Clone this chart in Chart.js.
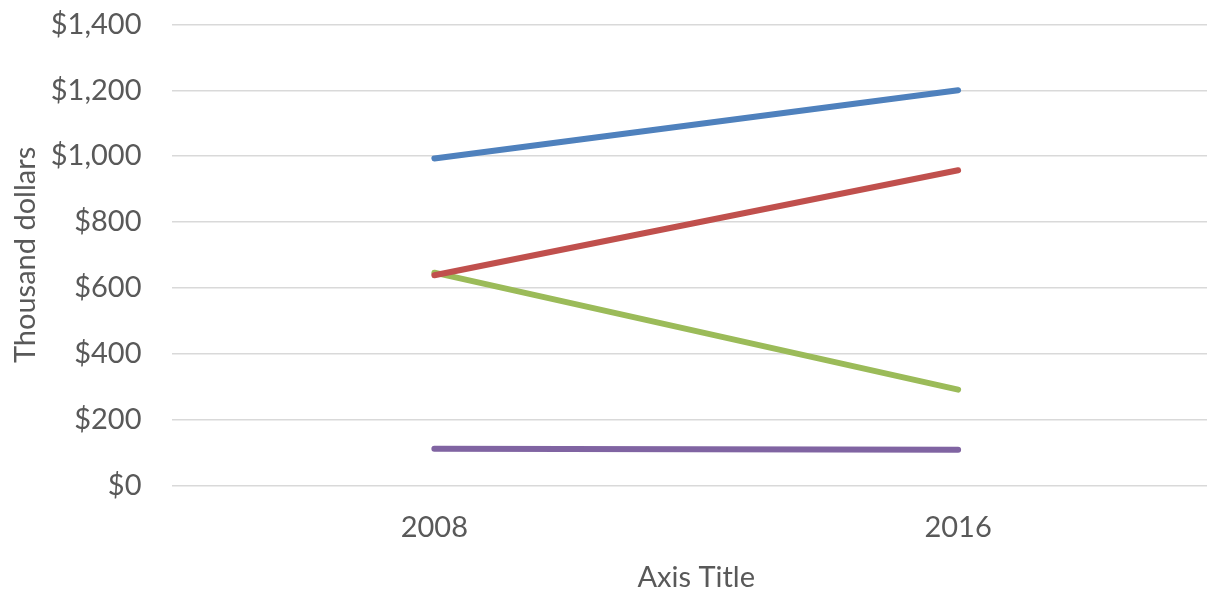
<!DOCTYPE html>
<html>
<head>
<meta charset="utf-8">
<script src="https://cdn.jsdelivr.net/npm/chart.js@4"></script>
<style>
    html, body { margin: 0; padding: 0; background: #fff; overflow: hidden; }
    #wrap { width: 1222px; height: 591px; }
</style>
</head>
<body>
<div id="wrap"><canvas id="chart"></canvas></div>
<script>
// Values
const years = ['2008', '2016'];
const blueValues = [993, 1200];
const redValues = [638, 957];
const greenValues = [646, 291];
const purpleValues = [111, 108];
const yTickValues = [0, 200, 400, 600, 800, 1000, 1200, 1400];

document.addEventListener('DOMContentLoaded', function() {
    const ctx = document.getElementById('chart').getContext('2d');
    const textColor = '#595959';
    const font = { family: 'Lato', size: 29 };

    function series(values, color) {
        return {
            data: values,
            borderColor: color,
            backgroundColor: color,
            borderWidth: 6,
            borderCapStyle: 'round',
            pointRadius: 0,
            tension: 0
        };
    }

    new Chart(ctx, {
        type: 'line',
        data: {
            labels: years,
            datasets: [
                series(blueValues, '#4f81bd'),
                series(redValues, '#c0504d'),
                series(greenValues, '#9bbb59'),
                series(purpleValues, '#8064a2')
            ]
        },
        options: {
            responsive: true,
            maintainAspectRatio: false,
            animation: false,
            layout: { padding: { left: 8, top: 0, right: 2, bottom: 0 } },
            plugins: {
                legend: { display: false },
                tooltip: { enabled: false }
            },
            scales: {
                x: {
                    offset: true,
                    grid: { display: false, drawTicks: false },
                    border: { display: false },
                    ticks: { color: textColor, font: font, padding: 25 },
                    title: {
                        display: true,
                        text: 'Axis Title',
                        color: textColor,
                        font: font,
                        padding: { top: -10, bottom: -4 }
                    }
                },
                y: {
                    min: 0,
                    max: 1400,
                    afterBuildTicks: axis => {
                        axis.ticks = yTickValues.map(v => ({ value: v }));
                    },
                    grid: {
                        color: '#d9d9d9',
                        lineWidth: 1.5,
                        drawTicks: true,
                        tickLength: 24,
                        tickColor: 'rgba(0,0,0,0)'
                    },
                    border: { display: false },
                    ticks: {
                        color: textColor,
                        font: font,
                        padding: 7,
                        callback: v => '$' + v.toLocaleString('en-US')
                    },
                    title: {
                        display: true,
                        text: 'Thousand dollars',
                        color: textColor,
                        font: font,
                        padding: { top: 0, bottom: 1 }
                    }
                }
            }
        }
    });
});
</script>
</body>
</html>
